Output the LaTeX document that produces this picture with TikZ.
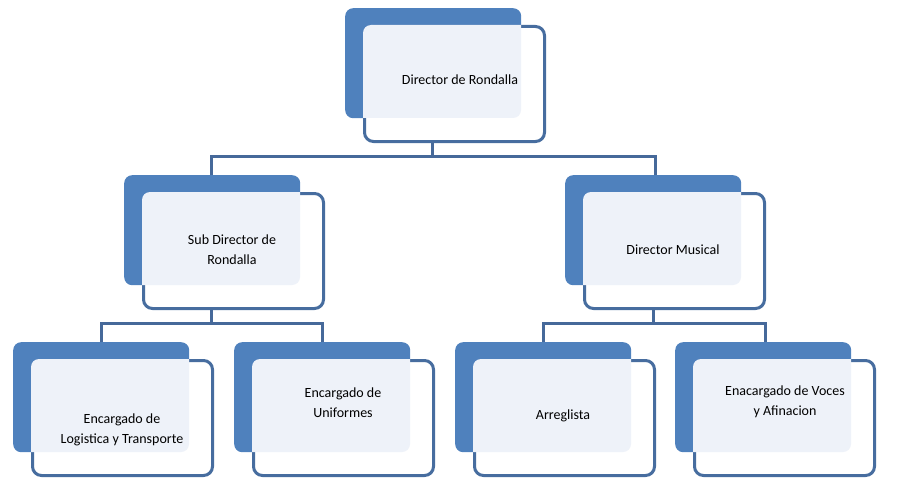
\documentclass[tikz,border=0pt]{standalone}
\usepackage{fontspec}
\setmainfont{Carlito}
\definecolor{backblue}{HTML}{4F81BD}
\definecolor{lineblue}{HTML}{46699A}
\definecolor{paleblue}{HTML}{EEF2F9}
\tikzset{
  backbox/.style={fill=backblue, rounded corners=8pt, minimum width=176pt, minimum height=110pt, inner sep=0pt, anchor=north west},
  frontbox/.style={draw=lineblue!85!backblue, line width=3pt, fill=white, rounded corners=9pt, minimum width=180pt, minimum height=115pt, inner sep=0pt, anchor=north west},
  label/.style={align=center, font=\fontsize{14}{20}\selectfont, inner sep=0pt},
  link/.style={draw=lineblue, line width=3pt}
}
% back rectangle, front rectangle, pale overlap
\newcommand{\orgbox}[3]{%
  \node[backbox] (#1b) at (#2,#3) {};
  \node[frontbox] (#1) at (#2+18,#3+17) {};
  \begin{scope}
    \clip[rounded corners=8pt] (#2+18,#3+17) rectangle (#2+197,#3+131);
    \fill[paleblue, rounded corners=8pt] (#2,#3) rectangle (#2+176,#3+110);
  \end{scope}}
\begin{document}
\begin{tikzpicture}[x=1pt,y=-1pt]
\useasboundingbox (0,0) rectangle (899,492);
% boxes
\orgbox{dir}{345}{8}
\orgbox{sub}{124}{175}
\orgbox{mus}{565}{175}
\orgbox{log}{13}{342}
\orgbox{uni}{234}{342}
\orgbox{arr}{455}{342}
\orgbox{voc}{675}{342}
% texts
\node[label] (tdir) at (460,80) {Director de Rondalla};
\node[label] (tsub) at (232,250) {Sub Director de\\Rondalla};
\node[label] (tmus) at (673,250) {Director Musical};
\node[label] (tlog) at (122,430) {Encargado de\\Logistica y Transporte};
\node[label] (tuni) at (343,403) {Encargado de\\Uniformes};
\node[label] (tarr) at (563,416) {Arreglista};
\node[label] (tvoc) at (785,402) {Enacargado de Voces\\y Afinacion};
% connectors
\coordinate (j1) at (432,156);
\coordinate (j2) at (211,323);
\coordinate (j3) at (653,323);
\draw[link] (dir.south -| j1) -- (j1);
\draw[link] (j1 -| subb.north) ++(0,0) coordinate (s1);
\draw[link] (211,175) |- (j1) -| (655,175);
\draw[link] (sub.south -| j2) -- (j2);
\draw[link] (101,342) |- (j2) -| (322,342);
\draw[link] (mus.south -| j3) -- (j3);
\draw[link] (543,342) |- (j3) -| (765,342);
\end{tikzpicture}
\end{document}
